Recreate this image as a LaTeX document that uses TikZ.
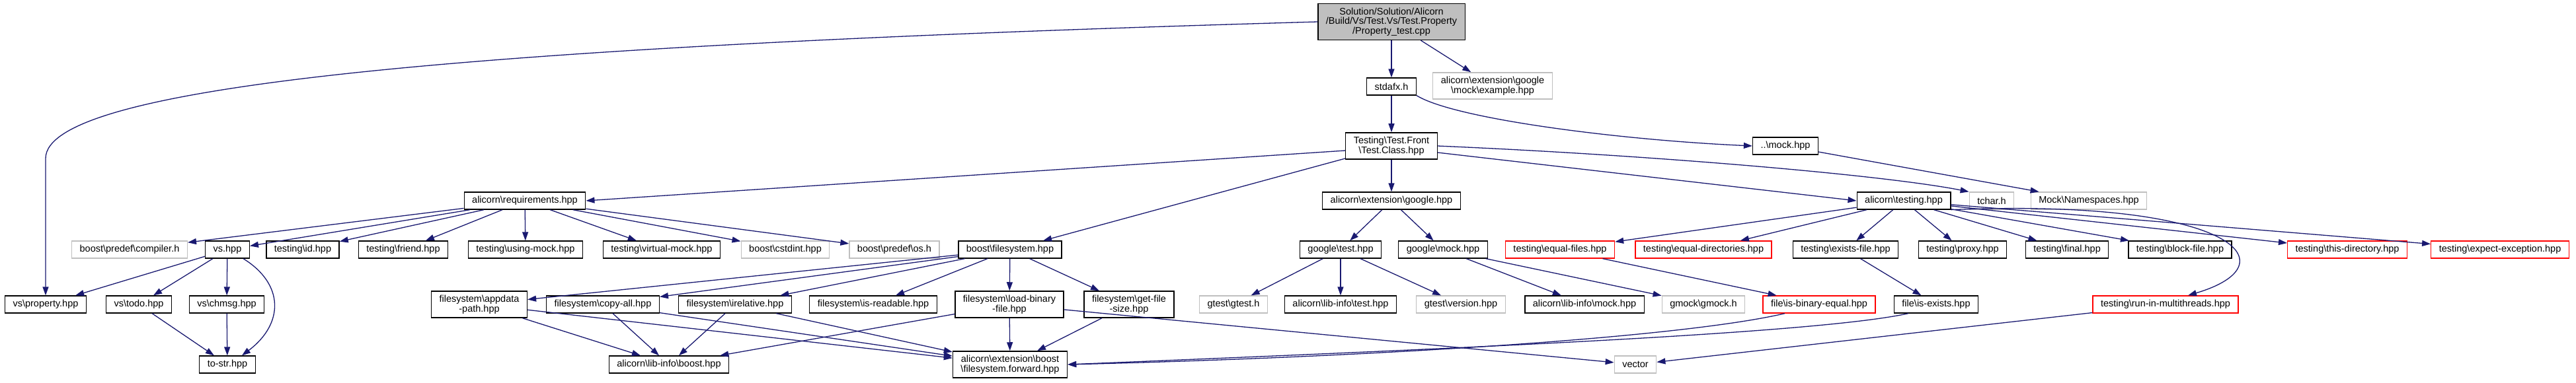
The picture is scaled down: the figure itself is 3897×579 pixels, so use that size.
\documentclass[tikz,border=0pt]{standalone}
\usepackage{fontspec}
\setmainfont{Liberation Sans}
\usepackage{tikz}
\usepackage{xcolor}
\definecolor{doxyedge}{RGB}{25, 25, 112}
\definecolor{doxygray}{RGB}{191, 191, 191}
\definecolor{doxyred}{RGB}{255, 0, 0}
\usetikzlibrary{arrows.meta,positioning}
\newcommand{\bksl}{\textbackslash}

\begin{document}
\begin{tikzpicture}[x=1pt, y=-1pt,
    filebox/.style={draw=black, line width=1.3pt, fill=white, rectangle, inner xsep=12pt, inner ysep=6pt,
        minimum height=26pt, align=center, font=\fontsize{14.5}{14.7}\selectfont},
    extbox/.style={filebox, draw=doxygray},
    cutbox/.style={filebox, draw=doxyred},
    mainbox/.style={filebox, fill=doxygray},
    dep/.style={draw=doxyedge, line width=1.3pt, -{Triangle[length=13pt,width=9pt]}}]
    \useasboundingbox (0,0) rectangle (3897,579);

    % Source file and its direct includes
    \node[mainbox] (top) at (2105,33) {Solution/Solution/Alicorn\\/Build/Vs/Test.Vs/Test.Property\\/Property\_test.cpp};
    \node[filebox] (stdafx) at (2105,131) {stdafx.h};
    \node[extbox] (example) at (2258,130) {alicorn\bksl extension\bksl google\\\bksl mock\bksl example.hpp};
    \node[filebox] (testclass) at (2105,221) {Testing\bksl Test.Front\\\bksl Test.Class.hpp};
    \node[filebox] (mockhpp) at (2701,221) {..\bksl mock.hpp};

    % Second level
    \foreach \x/\nm/\st/\lab in {794/req/filebox/alicorn\bksl requirements.hpp,
        2105/google/filebox/alicorn\bksl extension\bksl google.hpp,
        2880/testing/filebox/alicorn\bksl testing.hpp,
        3013/tchar/extbox/tchar.h,
        3160/mockns/extbox/Mock\bksl Namespaces.hpp}
        \node[\st] (\nm) at (\x,304) {\lab};

    % Third level
    \foreach \x/\nm/\st/\lab in {196/compiler/extbox/boost\bksl predef\bksl compiler.h,
        344/vshpp/filebox/vs.hpp,
        458/id/filebox/testing\bksl id.hpp,
        610/friend/filebox/testing\bksl friend.hpp,
        795/usingmock/filebox/testing\bksl using-mock.hpp,
        1001/virtualmock/filebox/testing\bksl virtual-mock.hpp,
        1188/cstdint/extbox/boost\bksl cstdint.hpp,
        1353/os/extbox/boost\bksl predef\bksl os.h,
        1528/boostfs/filebox/boost\bksl filesystem.hpp,
        2028/gtesthpp/filebox/google\bksl test.hpp,
        2183/gmockhpp/filebox/google\bksl mock.hpp,
        2360/eqfiles/cutbox/testing\bksl equal-files.hpp,
        2577/eqdirs/cutbox/testing\bksl equal-directories.hpp,
        2792/existsfile/filebox/testing\bksl exists-file.hpp,
        2969/proxy/filebox/testing\bksl proxy.hpp,
        3127/final/filebox/testing\bksl final.hpp,
        3298/blockfile/filebox/testing\bksl block-file.hpp,
        3551/thisdir/cutbox/testing\bksl this-directory.hpp,
        3782/expectexc/cutbox/testing\bksl expect-exception.hpp}
        \node[\st] (\nm) at (\x,378) {\lab};

    % Fourth level
    \foreach \x/\nm/\st/\lab in {69/property/filebox/vs\bksl property.hpp,
        210/todo/filebox/vs\bksl todo.hpp,
        343/chmsg/filebox/vs\bksl chmsg.hpp,
        725/appdata/filebox/filesystem\bksl appdata\\-path.hpp,
        912/copyall/filebox/filesystem\bksl copy-all.hpp,
        1112/relative/filebox/filesystem\bksl irelative.hpp,
        1321/readable/filebox/filesystem\bksl is-readable.hpp,
        1527/loadbin/filebox/filesystem\bksl load-binary\\-file.hpp,
        1708/getsize/filebox/filesystem\bksl get-file\\-size.hpp,
        1866/gtesth/extbox/gtest\bksl gtest.h,
        2028/libtest/filebox/alicorn\bksl lib-info\bksl test.hpp,
        2210/gtestver/extbox/gtest\bksl version.hpp,
        2397/libmock/filebox/alicorn\bksl lib-info\bksl mock.hpp,
        2577/gmockh/extbox/gmock\bksl gmock.h,
        2752/binequal/cutbox/file\bksl is-binary-equal.hpp,
        2929/isexists/filebox/file\bksl is-exists.hpp,
        3276/multithreads/cutbox/testing\bksl run-in-multithreads.hpp}
        \node[\st] (\nm) at (\x,461) {\lab};

    % Bottom level
    \foreach \x/\nm/\st/\lab in {344/tostr/filebox/to-str.hpp,
        1012/libboost/filebox/alicorn\bksl lib-info\bksl boost.hpp,
        1528/fsforward/filebox/alicorn\bksl extension\bksl boost\\\bksl filesystem.forward.hpp,
        2474/vector/extbox/vector}
        \node[\st] (\nm) at (\x,552) {\lab};

    % Straight includes
    \foreach \a/\b in {top/stdafx, top/example, stdafx/testclass, mockhpp/mockns,
        testclass/boostfs, testclass/google,
        req/compiler, req/vshpp, req/id, req/friend, req/usingmock, req/virtualmock, req/cstdint, req/os,
        vshpp/property, vshpp/todo, vshpp/chmsg, todo/tostr, chmsg/tostr,
        boostfs/appdata, boostfs/copyall, boostfs/relative, boostfs/readable, boostfs/loadbin, boostfs/getsize,
        appdata/libboost, appdata/fsforward, copyall/libboost, copyall/fsforward,
        relative/libboost, relative/fsforward, loadbin/libboost, loadbin/fsforward, loadbin/vector,
        getsize/fsforward,
        google/gtesthpp, google/gmockhpp, gtesthpp/gtesth, gtesthpp/libtest, gtesthpp/gtestver,
        gmockhpp/libmock, gmockhpp/gmockh,
        testing/eqfiles, testing/eqdirs, testing/existsfile, testing/proxy, testing/final,
        testing/blockfile, testing/thisdir, testing/expectexc,
        eqfiles/binequal, existsfile/isexists, multithreads/vector}
        \draw[dep] (\a) -- (\b);

    \draw[dep] ([yshift=-7pt]testclass.west) -- (req.east);
    \draw[dep] ([yshift=-10pt]testclass.east) -- (testing.west);

    % Curved includes
    \draw[dep] (top.west) .. controls (700,70) and (69,130) .. (69,240) -- (property.north);
    \draw[dep] (stdafx.south east) .. controls (2200,180) and (2450,212) .. (mockhpp.west);
    \draw[dep] (testclass.east) .. controls (2500,235) and (2850,265) .. (tchar.north west);
    \draw[dep] ([xshift=-10pt]vshpp.south east) .. controls (430,430) and (430,490) .. ([xshift=22pt]tostr.north);
    \draw[dep] (testing.south east) .. controls (3380,300) and (3470,400) .. ([xshift=34pt]multithreads.north);
    \draw[dep] ([xshift=-52pt]binequal.south) .. controls (2550,510) and (2100,540) .. (fsforward.east);
    \draw[dep] ([xshift=-42pt]isexists.south) .. controls (2750,505) and (2200,528) .. (fsforward.east);
\end{tikzpicture}
\end{document}
